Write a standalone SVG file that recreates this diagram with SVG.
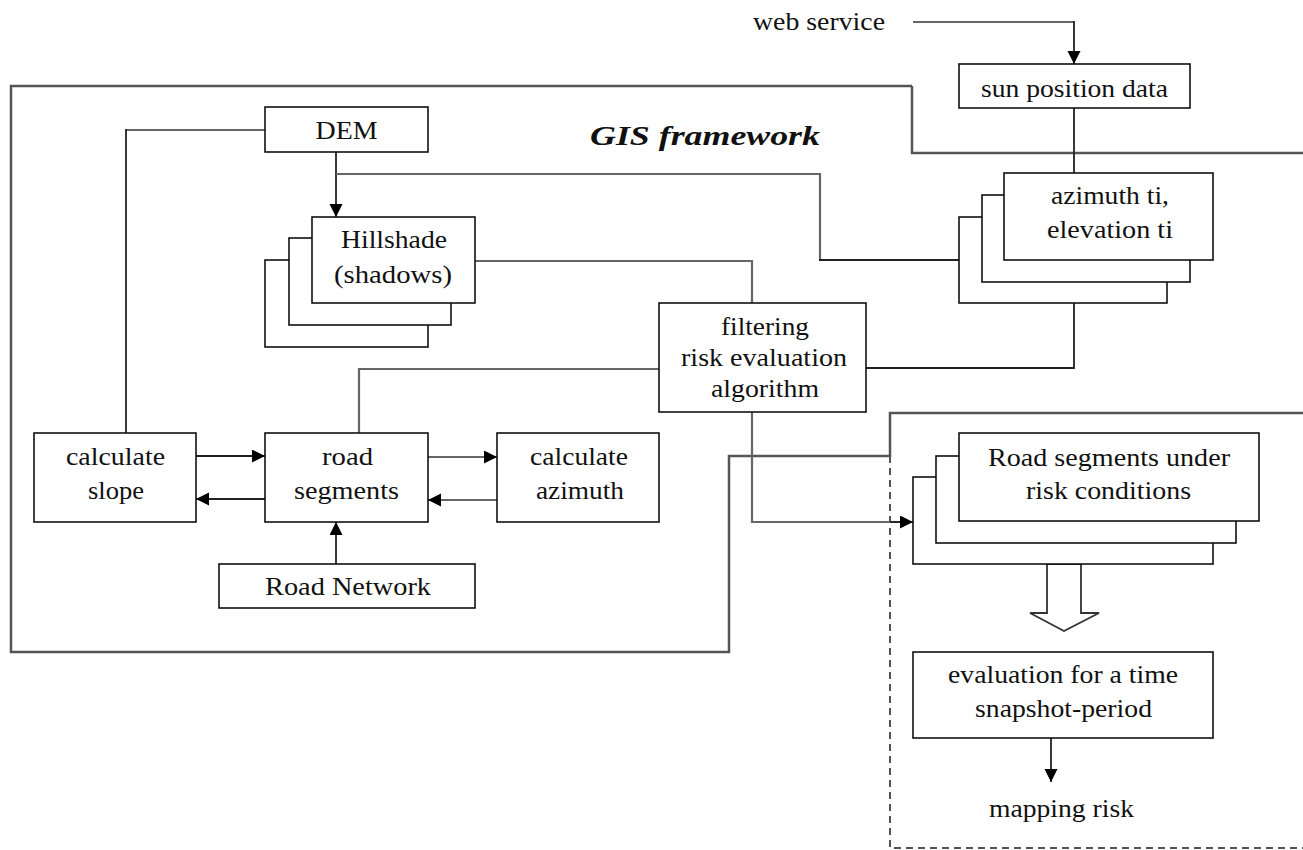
<svg xmlns="http://www.w3.org/2000/svg" width="1303" height="850" viewBox="0 0 1303 850">
<style>
  .box { fill: #fff; stroke: #111; stroke-width: 1.6; }
  .t { font-family: "Liberation Serif", "Times New Roman", serif; font-size: 26px; fill: #111; text-anchor: middle; }
  .frame { fill: none; stroke: #555; stroke-width: 2.5; }
  .dash { fill: none; stroke: #555; stroke-width: 2; stroke-dasharray: 7 5; }
  .c { fill: none; stroke: #222; stroke-width: 1.8; }
  .g { fill: none; stroke: #666; stroke-width: 2.2; }
  .arr { marker-end: url(#ah); }
</style>
<defs>
  <marker id="ah" markerUnits="userSpaceOnUse" markerWidth="14" markerHeight="14" refX="13" refY="6.5" orient="auto">
    <path d="M0,0 L13,6.5 L0,13 z" fill="#000"/>
  </marker>
</defs>
<rect width="1303" height="850" fill="#fff"/>

<g id="connectors">
  <path class="frame" d="M912,86 H11 V652 H729 V456 H890 V413 H1303"/>
  <path class="frame" d="M912,86 V153 H1303"/>
  <path class="dash" d="M890,456 V848 H1303"/>
  <path class="g" d="M913,22 H1074"/>
  <path class="c arr" d="M1074,21 V64"/>
  <path class="c" d="M1074,108 V173"/>
  <path class="g" d="M265,130 H126"/>
  <path class="c" d="M126,129 V433"/>
  <path class="c arr" d="M336,152 V217"/>
  <path class="g" d="M336,174 H820 V260"/>
  <path class="c" d="M819,260 H959"/>
  <path class="g" d="M475,261 H752 V303"/>
  <path class="g" d="M359,433 V369 H659"/>
  <path class="c" d="M866,368 H1074 V303"/>
  <path class="g" d="M752,412 V522 H900"/>
  <path class="c arr" d="M890,522 H913"/>
  <path class="c arr" d="M196,456 H265"/>
  <path class="c arr" d="M265,499 H196"/>
  <path class="g arr" d="M428,457 H497"/>
  <path class="g arr" d="M497,500 H428"/>
  <path class="c arr" d="M336,564 V522"/>
  <path class="c arr" d="M1051,738 V782"/>
  <polygon points="1047,564 1047,613 1030,613 1064,631 1099,613 1081,613 1081,564" fill="#fff" stroke="#333" stroke-width="1.8"/>
</g>

<g id="web-service"><text class="t" x="819" y="30" textLength="132" lengthAdjust="spacingAndGlyphs">web service</text></g>
<g id="gis-label"><text x="590" y="145" font-family="Liberation Serif, serif" font-size="28" font-weight="bold" font-style="italic" fill="#111" textLength="230" lengthAdjust="spacingAndGlyphs">GIS framework</text></g>

<g id="dem">
  <rect class="box" x="265" y="107" width="163" height="45"/>
  <text class="t" x="346.5" y="139" textLength="62" lengthAdjust="spacingAndGlyphs">DEM</text>
</g>
<g id="sun-position">
  <rect class="box" x="959" y="64" width="231" height="44"/>
  <text class="t" x="1074.5" y="97" textLength="187" lengthAdjust="spacingAndGlyphs">sun position data</text>
</g>
<g id="hillshade">
  <rect class="box" x="265" y="260" width="163" height="87"/>
  <rect class="box" x="289" y="238" width="162" height="87"/>
  <rect class="box" x="312" y="217" width="163" height="86"/>
  <text class="t" x="394" y="248" textLength="106" lengthAdjust="spacingAndGlyphs">Hillshade</text>
  <text class="t" x="393" y="283" textLength="118" lengthAdjust="spacingAndGlyphs">(shadows)</text>
</g>
<g id="azimuth-elevation">
  <rect class="box" x="959" y="217" width="208" height="86"/>
  <rect class="box" x="982" y="195" width="208" height="87"/>
  <rect class="box" x="1004" y="173" width="209" height="87"/>
  <text class="t" x="1110" y="204" textLength="118" lengthAdjust="spacingAndGlyphs">azimuth ti,</text>
  <text class="t" x="1110" y="238" textLength="126" lengthAdjust="spacingAndGlyphs">elevation ti</text>
</g>
<g id="filtering">
  <rect class="box" x="659" y="303" width="207" height="109"/>
  <text class="t" x="765" y="335" textLength="88" lengthAdjust="spacingAndGlyphs">filtering</text>
  <text class="t" x="764" y="366" textLength="166" lengthAdjust="spacingAndGlyphs">risk evaluation</text>
  <text class="t" x="765" y="397" textLength="108" lengthAdjust="spacingAndGlyphs">algorithm</text>
</g>
<g id="calculate-slope">
  <rect class="box" x="34" y="433" width="162" height="89"/>
  <text class="t" x="115.5" y="465" textLength="99" lengthAdjust="spacingAndGlyphs">calculate</text>
  <text class="t" x="116" y="499" textLength="56" lengthAdjust="spacingAndGlyphs">slope</text>
</g>
<g id="road-segments">
  <rect class="box" x="265" y="433" width="163" height="89"/>
  <text class="t" x="347.5" y="465" textLength="51" lengthAdjust="spacingAndGlyphs">road</text>
  <text class="t" x="346.5" y="499" textLength="105" lengthAdjust="spacingAndGlyphs">segments</text>
</g>
<g id="calculate-azimuth">
  <rect class="box" x="497" y="433" width="162" height="89"/>
  <text class="t" x="579" y="465" textLength="98" lengthAdjust="spacingAndGlyphs">calculate</text>
  <text class="t" x="580" y="499" textLength="88" lengthAdjust="spacingAndGlyphs">azimuth</text>
</g>
<g id="road-network">
  <rect class="box" x="219" y="564" width="256" height="44"/>
  <text class="t" x="348" y="595" textLength="166" lengthAdjust="spacingAndGlyphs">Road Network</text>
</g>
<g id="road-segments-risk">
  <rect class="box" x="913" y="477" width="300" height="87"/>
  <rect class="box" x="936" y="456" width="300" height="87"/>
  <rect class="box" x="959" y="433" width="300" height="88"/>
  <text class="t" x="1109" y="466" textLength="242" lengthAdjust="spacingAndGlyphs">Road segments under</text>
  <text class="t" x="1108.5" y="499" textLength="165" lengthAdjust="spacingAndGlyphs">risk conditions</text>
</g>
<g id="evaluation">
  <rect class="box" x="913" y="652" width="300" height="86"/>
  <text class="t" x="1063" y="683" textLength="230" lengthAdjust="spacingAndGlyphs">evaluation for a time</text>
  <text class="t" x="1063.5" y="717" textLength="177" lengthAdjust="spacingAndGlyphs">snapshot-period</text>
</g>
<g id="mapping-risk">
  <text class="t" x="1061.5" y="817" textLength="145" lengthAdjust="spacingAndGlyphs">mapping risk</text>
</g>
</svg>
